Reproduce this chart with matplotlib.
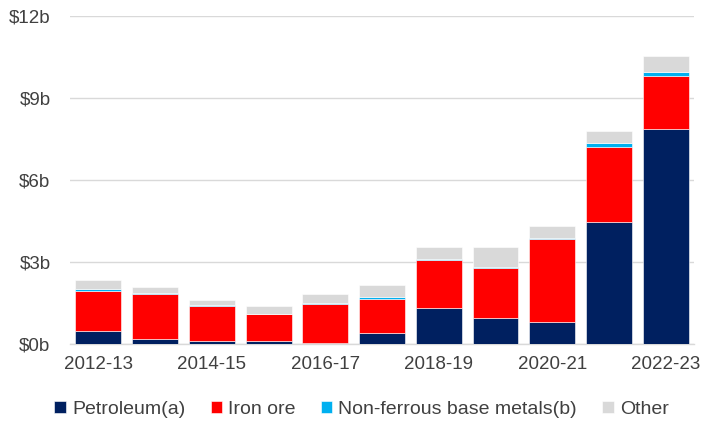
import matplotlib
matplotlib.use('Agg')
import matplotlib.pyplot as plt
import numpy as np

# Dados (bilhões de dólares)
anos = ['2012-13', '2013-14', '2014-15', '2015-16', '2016-17', '2017-18',
        '2018-19', '2019-20', '2020-21', '2021-22', '2022-23']
petroleo = [0.49, 0.17, 0.12, 0.09, 0.05, 0.41, 1.33, 0.96, 0.81, 4.46, 7.85]
minerio_ferro = [1.46, 1.66, 1.27, 1.01, 1.41, 1.22, 1.74, 1.82, 3.02, 2.73, 1.97]
metais_base = [0.06, 0.03, 0.04, 0.01, 0.05, 0.07, 0.03, 0.02, 0.05, 0.15, 0.15]
outros = [0.33, 0.22, 0.18, 0.28, 0.31, 0.45, 0.46, 0.73, 0.44, 0.44, 0.55]

series = [
    ('Petroleum(a)', petroleo, '#002060'),
    ('Iron ore', minerio_ferro, '#FF0000'),
    ('Non-ferrous base metals(b)', metais_base, '#00B0F0'),
    ('Other', outros, '#D9D9D9'),
]

plt.rcParams['font.family'] = ['Liberation Sans', 'DejaVu Sans']

fig = plt.figure(figsize=(7.02, 4.22), dpi=100)
ax = fig.add_axes([0.0997, 0.185, 0.889, 0.777])

x = np.arange(len(anos))
base = np.zeros(len(anos))
for nome, valores, cor in series:
    ax.bar(x, valores, bottom=base, width=0.81, color=cor, label=nome,
           edgecolor='white', linewidth=0.4, zorder=3)
    base += np.array(valores)

ax.set_xlim(-0.5, len(anos) - 0.5)
ax.set_ylim(0, 12)
ax.set_yticks([0, 3, 6, 9, 12])
ax.set_yticklabels(['$0b', '$3b', '$6b', '$9b', '$12b'])
ax.set_xticks(x[::2])
ax.set_xticklabels(anos[::2])
ax.tick_params(axis='both', length=0, labelsize=13.5, colors='#404040')
ax.tick_params(axis='x', pad=9)
ax.tick_params(axis='y', pad=14)
ax.yaxis.grid(True, color='#D9D9D9', linewidth=1, zorder=0)
for lado in ['top', 'right', 'left']:
    ax.spines[lado].set_visible(False)
ax.spines['bottom'].set_color('#D9D9D9')
ax.spines['bottom'].set_linewidth(1)

fig.legend(loc='lower center', ncol=4, frameon=False, fontsize=14,
           bbox_to_anchor=(0.515, -0.032), handlelength=0.6, handleheight=0.6,
           handletextpad=0.3, columnspacing=1.3, labelcolor='#404040')

fig.savefig('out.png', dpi=100)
